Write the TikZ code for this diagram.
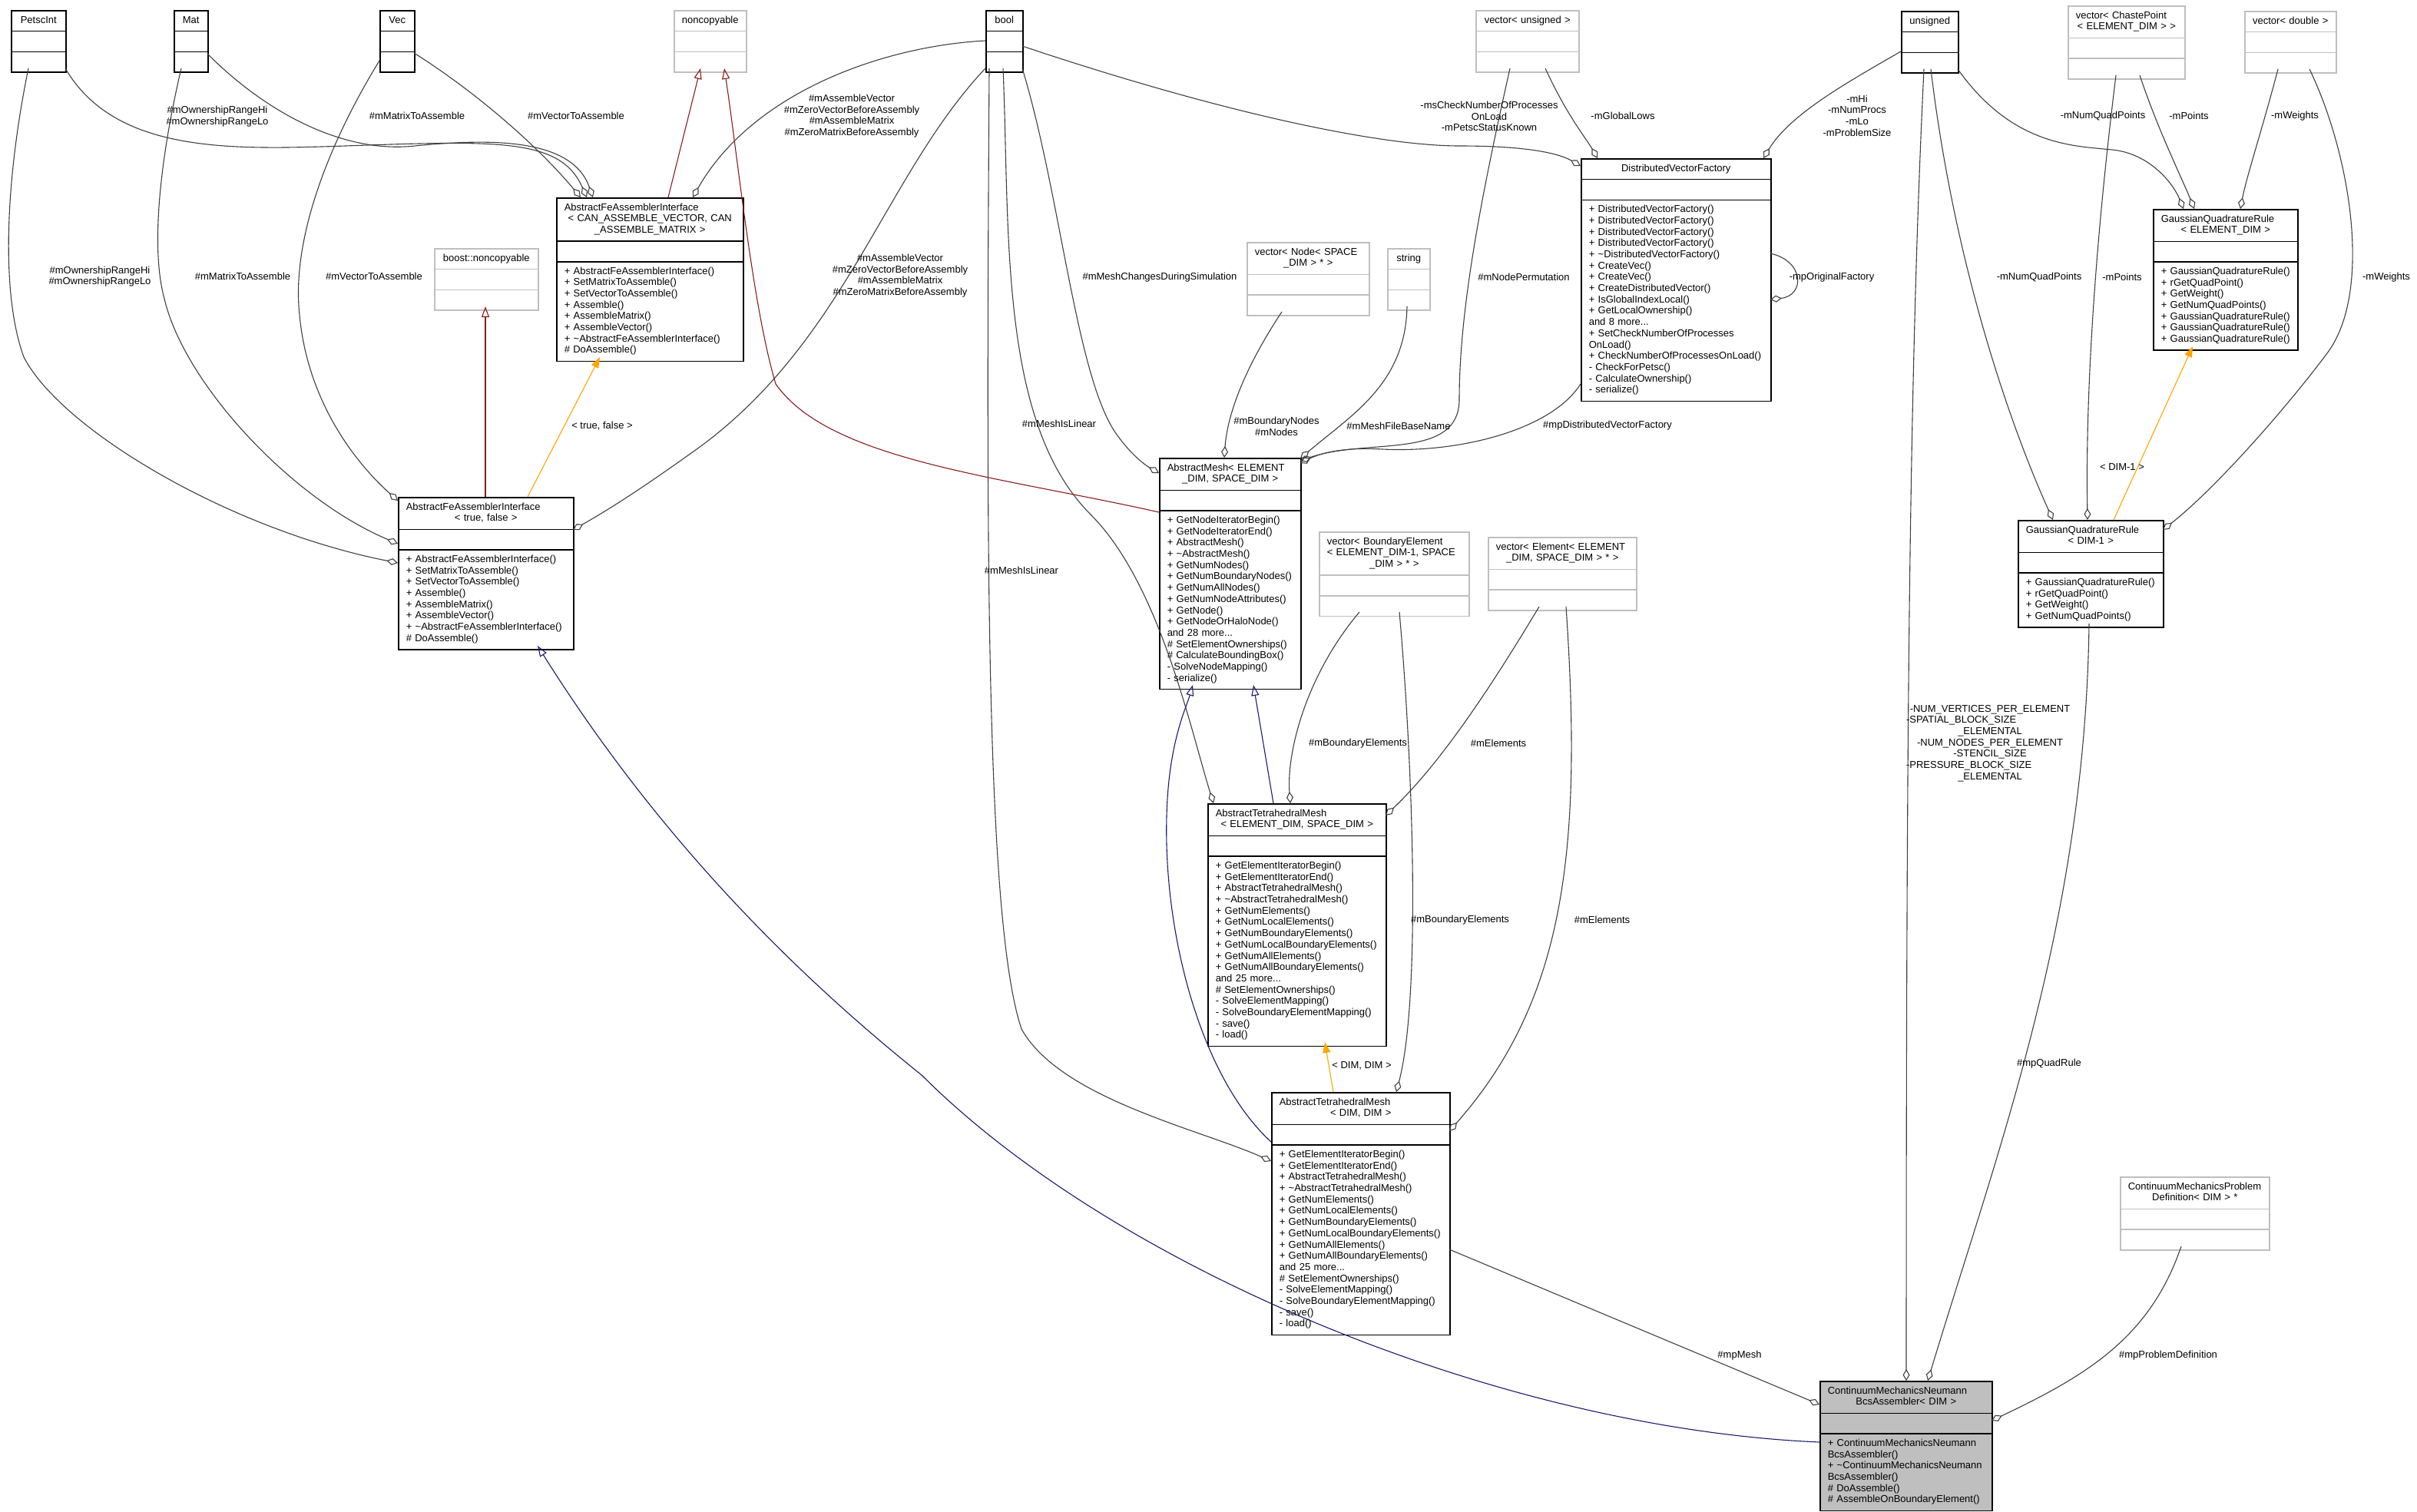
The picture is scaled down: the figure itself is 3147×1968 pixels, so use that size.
\documentclass[tikz,border=0pt]{standalone}
\usepackage{fontspec}
\setmainfont{Liberation Sans}
\usetikzlibrary{shapes.multipart,arrows.meta,calc}
\definecolor{edgegray}{HTML}{404040}
\definecolor{boxgray}{HTML}{BFBFBF}
\definecolor{inhblue}{HTML}{191970}
\definecolor{inhred}{HTML}{8B1A1A}
\definecolor{tmplorange}{HTML}{FFA500}
\definecolor{cmfill}{HTML}{BFBFBF}
\newcommand\fs{\fontsize{13}{14.7}\selectfont\hyphenpenalty=10000\parindent=0pt}
\newcommand\cl[1]{\makebox[\hsize][c]{\strut#1}}
\newcommand\onettl[1]{\cl{#1}}
\newcommand\twottl[2]{\strut#1\\\cl{#2}}
\newcommand\tdl{\textasciitilde}
\newcommand\emptypart{\strut}
\begin{document}
\begin{tikzpicture}[x=1pt,y=-1pt,
  cls/.style={rectangle split, rectangle split parts=3, draw=black, line width=1.5pt,
    inner xsep=10pt, inner ysep=5.3pt, align=left, anchor=north west, font=\fs, fill=white},
  gcls/.style={cls, draw=boxgray},
  lab/.style={font=\fs, align=center, inner sep=0pt},
  agg/.style={draw=edgegray, line width=1.1pt, -{Diamond[open, length=15pt, width=9pt]}},
  inh/.style={draw=inhblue, line width=1.1pt, -{Triangle[open, length=14pt, width=10pt]}},
  inhr/.style={draw=inhred, line width=1.1pt, -{Triangle[open, length=14pt, width=10pt]}},
  tmpl/.style={draw=tmplorange, line width=1.1pt, -{Triangle[length=14pt, width=10pt, fill=tmplorange]}}]
\fill[white] (0,0) rectangle (3147,1968);
\useasboundingbox (0,0) rectangle (3147,1968);

% ---------- classes ----------
\node[cls, text width=51pt] (petsc) at (14,13) {\onettl{PetscInt}\nodepart{two}\emptypart\nodepart{three}\emptypart};
\node[cls, text width=24pt] (mat) at (226,13) {\onettl{Mat}\nodepart{two}\emptypart\nodepart{three}\emptypart};
\node[cls, text width=25pt] (vec) at (494,13) {\onettl{Vec}\nodepart{two}\emptypart\nodepart{three}\emptypart};
\node[gcls, text width=74pt] (ncop) at (877,13) {\onettl{noncopyable}\nodepart{two}\emptypart\nodepart{three}\emptypart};
\node[cls, text width=28pt] (bool) at (1283,13) {\onettl{bool}\nodepart{two}\emptypart\nodepart{three}\emptypart};
\node[gcls, text width=114pt] (vuns) at (1921,13) {\onettl{vector< unsigned >}\nodepart{two}\emptypart\nodepart{three}\emptypart};
\node[cls, text width=54pt] (uns) at (2475,14) {\onettl{unsigned}\nodepart{two}\emptypart\nodepart{three}\emptypart};
\node[gcls, text width=132pt] (vcp) at (2692,7) {\twottl{vector< ChastePoint}{< ELEMENT\_DIM > >}\nodepart{two}\emptypart\nodepart{three}\emptypart};
\node[gcls, text width=99pt] (vdbl) at (2922,14) {\onettl{vector< double >}\nodepart{two}\emptypart\nodepart{three}\emptypart};

\node[cls, text width=223pt] (afaic) at (724,257) {\strut AbstractFeAssemblerInterface\\\cl{< CAN\_ASSEMBLE\_VECTOR, CAN}\\\cl{\_ASSEMBLE\_MATRIX >}\nodepart{two}\emptypart\nodepart{three}\strut+~AbstractFeAssemblerInterface()\\+~SetMatrixToAssemble()\\+~SetVectorToAssemble()\\+~Assemble()\\+~AssembleMatrix()\\+~AssembleVector()\\+~\tdl AbstractFeAssemblerInterface()\\\#~DoAssemble()\strut};
\node[gcls, text width=115pt] (bnc) at (565,323) {\onettl{boost::noncopyable}\nodepart{two}\emptypart\nodepart{three}\emptypart};
\node[cls, text width=208pt] (afaitf) at (518,647) {\twottl{AbstractFeAssemblerInterface}{< true, false >}\nodepart{two}\emptypart\nodepart{three}\strut+~AbstractFeAssemblerInterface()\\+~SetMatrixToAssemble()\\+~SetVectorToAssemble()\\+~Assemble()\\+~AssembleMatrix()\\+~AssembleVector()\\+~\tdl AbstractFeAssemblerInterface()\\\#~DoAssemble()\strut};

\node[cls, text width=227pt] (dvf) at (2058,206) {\onettl{DistributedVectorFactory}\nodepart{two}\emptypart\nodepart{three}\strut+~DistributedVectorFactory()\\+~DistributedVectorFactory()\\+~DistributedVectorFactory()\\+~DistributedVectorFactory()\\+~\tdl DistributedVectorFactory()\\+~CreateVec()\\+~CreateVec()\\+~CreateDistributedVector()\\+~IsGlobalIndexLocal()\\+~GetLocalOwnership()\\and 8 more...\\+~SetCheckNumberOfProcesses\\OnLoad()\\+~CheckNumberOfProcessesOnLoad()\\-~CheckForPetsc()\\-~CalculateOwnership()\\-~serialize()\strut};
\node[gcls, text width=139pt] (vnode) at (1623,315) {\twottl{vector< Node< SPACE}{\_DIM > * >}\nodepart{two}\emptypart\nodepart{three}\emptypart};
\node[gcls, text width=35pt] (str) at (1806,323) {\onettl{string}\nodepart{two}\emptypart\nodepart{three}\emptypart};
\node[cls, text width=168pt] (gqre) at (2803,272) {\twottl{GaussianQuadratureRule}{< ELEMENT\_DIM >}\nodepart{two}\emptypart\nodepart{three}\strut+~GaussianQuadratureRule()\\+~rGetQuadPoint()\\+~GetWeight()\\+~GetNumQuadPoints()\\+~GaussianQuadratureRule()\\+~GaussianQuadratureRule()\\+~GaussianQuadratureRule()\strut};

\node[cls, text width=164pt] (amesh) at (1509,596) {\twottl{AbstractMesh< ELEMENT}{\_DIM, SPACE\_DIM >}\nodepart{two}\emptypart\nodepart{three}\strut+~GetNodeIteratorBegin()\\+~GetNodeIteratorEnd()\\+~AbstractMesh()\\+~\tdl AbstractMesh()\\+~GetNumNodes()\\+~GetNumBoundaryNodes()\\+~GetNumAllNodes()\\+~GetNumNodeAttributes()\\+~GetNode()\\+~GetNodeOrHaloNode()\\and 28 more...\\\#~SetElementOwnerships()\\\#~CalculateBoundingBox()\\-~SolveNodeMapping()\\-~serialize()\strut};
\node[gcls, text width=175pt] (vbe) at (1717,692) {\strut vector< BoundaryElement\\\strut< ELEMENT\_DIM-1, SPACE\\\cl{\_DIM > * >}\nodepart{two}\emptypart\nodepart{three}\emptypart};
\node[gcls, text width=173pt] (vel) at (1937,699) {\twottl{vector< Element< ELEMENT}{\_DIM, SPACE\_DIM > * >}\nodepart{two}\emptypart\nodepart{three}\emptypart};
\node[cls, text width=169pt] (gqrd) at (2627,677) {\twottl{GaussianQuadratureRule}{< DIM-1 >}\nodepart{two}\emptypart\nodepart{three}\strut+~GaussianQuadratureRule()\\+~rGetQuadPoint()\\+~GetWeight()\\+~GetNumQuadPoints()\strut};

\node[cls, text width=212pt] (atmes) at (1572,1046) {\twottl{AbstractTetrahedralMesh}{< ELEMENT\_DIM, SPACE\_DIM >}\nodepart{two}\emptypart\nodepart{three}\strut+~GetElementIteratorBegin()\\+~GetElementIteratorEnd()\\+~AbstractTetrahedralMesh()\\+~\tdl AbstractTetrahedralMesh()\\+~GetNumElements()\\+~GetNumLocalElements()\\+~GetNumBoundaryElements()\\+~GetNumLocalBoundaryElements()\\+~GetNumAllElements()\\+~GetNumAllBoundaryElements()\\and 25 more...\\\#~SetElementOwnerships()\\-~SolveElementMapping()\\-~SolveBoundaryElementMapping()\\-~save()\\-~load()\strut};
\node[cls, text width=212pt] (atmdd) at (1655,1422) {\twottl{AbstractTetrahedralMesh}{< DIM, DIM >}\nodepart{two}\emptypart\nodepart{three}\strut+~GetElementIteratorBegin()\\+~GetElementIteratorEnd()\\+~AbstractTetrahedralMesh()\\+~\tdl AbstractTetrahedralMesh()\\+~GetNumElements()\\+~GetNumLocalElements()\\+~GetNumBoundaryElements()\\+~GetNumLocalBoundaryElements()\\+~GetNumAllElements()\\+~GetNumAllBoundaryElements()\\and 25 more...\\\#~SetElementOwnerships()\\-~SolveElementMapping()\\-~SolveBoundaryElementMapping()\\-~save()\\-~load()\strut};
\node[gcls, text width=174pt] (cmpd) at (2760,1532) {\twottl{ContinuumMechanicsProblem}{Definition< DIM > *}\nodepart{two}\emptypart\nodepart{three}\emptypart};
\node[cls, fill=cmfill, text width=204pt] (cmnba) at (2369,1798) {\twottl{ContinuumMechanicsNeumann}{BcsAssembler< DIM >}\nodepart{two}\emptypart\nodepart{three}\strut+~ContinuumMechanicsNeumann\\BcsAssembler()\\+~\tdl ContinuumMechanicsNeumann\\BcsAssembler()\\\#~DoAssemble()\\\#~AssembleOnBoundaryElement()\strut};

% ---------- aggregation edges ----------
\draw[agg] ([shift={(23,76)}]petsc.north west) .. controls (8,230) and (0,380) .. (31,465) .. controls (80,560) and (300,690) .. ([shift={(0,86)}]afaitf.north west);
\draw[agg] ([shift={(10,76)}]mat.north west) .. controls (210,200) and (195,320) .. (214,389) .. controls (240,500) and (380,650) .. ([shift={(0,61)}]afaitf.north west);
\draw[agg] ([shift={(0,66)}]vec.north west) .. controls (420,200) and (380,320) .. (390,410) .. controls (400,520) and (460,600) .. ([shift={(0,5)}]afaitf.north west);
\draw[agg] ([shift={(71,76)}]petsc.north west) .. controls (150,200) and (300,195) .. (450,190) .. controls (650,183) and (730,180) .. ([shift={(40,0)}]afaic.north west);
\draw[agg] ([shift={(44,57)}]mat.north west) .. controls (350,150) and (450,200) .. (540,190) .. controls (640,180) and (745,180) .. ([shift={(48,0)}]afaic.north west);
\draw[agg] ([shift={(45,56)}]vec.north west) .. controls (620,120) and (700,190) .. ([shift={(32,0)}]afaic.north west);
\draw[agg] ([shift={(0,40)}]bool.north west) .. controls (1150,60) and (980,120) .. ([shift={(178,0)}]afaic.north west);
\draw[agg] ([shift={(0,76)}]bool.north west) .. controls (1150,230) and (1100,450) .. (900,590) .. controls (830,640) and (790,665) .. ([shift={(228,43)}]afaitf.north west);
\draw[agg] ([shift={(48,47)}]bool.north west) .. controls (1600,150) and (1800,190) .. (1900,190) .. controls (1990,190) and (2030,200) .. ([shift={(0,10)}]dvf.north west);
\draw[agg] ([shift={(91,76)}]vuns.north west) .. controls (2040,150) and (2065,180) .. ([shift={(22,0)}]dvf.north west);
\draw[agg] ([shift={(0,53)}]uns.north west) .. controls (2400,110) and (2330,150) .. ([shift={(238,0)}]dvf.north west);
\draw[agg] ([shift={(247,124)}]dvf.north west) .. controls (2350,340) and (2350,385) .. ([shift={(247,184)}]dvf.north west);
\draw[agg] ([shift={(48,76)}]bool.north west) .. controls (1380,250) and (1400,480) .. (1450,560) .. controls (1470,590) and (1490,605) .. ([shift={(0,20)}]amesh.north west);
\draw[agg] ([shift={(23,76)}]bool.north west) .. controls (1315,300) and (1300,550) .. (1420,670) .. controls (1510,760) and (1550,950) .. ([shift={(8,0)}]atmes.north west);
\draw[agg] ([shift={(5,76)}]bool.north west) .. controls (1284,700) and (1283,1200) .. (1330,1340) .. controls (1380,1430) and (1560,1470) .. ([shift={(0,90)}]atmdd.north west);
\draw[agg] ([shift={(46,91)}]vnode.north west) .. controls (1620,480) and (1598,540) .. ([shift={(85,0)}]amesh.north west);
\draw[agg] ([shift={(26,76)}]str.north west) .. controls (1830,500) and (1760,540) .. ([shift={(184,1)}]amesh.north west);
\draw[agg] ([shift={(45,76)}]vuns.north west) .. controls (1930,250) and (1900,400) .. (1900,520) .. controls (1900,600) and (1780,570) .. ([shift={(184,4)}]amesh.north west);
\draw[agg] ([shift={(0,294)}]dvf.north west) .. controls (2020,560) and (1900,590) .. (1800,585) .. controls (1750,582) and (1720,590) .. ([shift={(184,7)}]amesh.north west);
\draw[agg] ([shift={(53,105)}]vbe.north west) .. controls (1700,880) and (1675,980) .. ([shift={(108,0)}]atmes.north west);
\draw[agg] ([shift={(67,91)}]vel.north west) .. controls (1950,880) and (1880,990) .. ([shift={(232,16)}]atmes.north west);
\draw[agg] ([shift={(105,105)}]vbe.north west) .. controls (1840,1000) and (1850,1300) .. ([shift={(163,0)}]atmdd.north west);
\draw[agg] ([shift={(102,91)}]vel.north west) .. controls (2060,1100) and (2040,1300) .. ([shift={(232,51)}]atmdd.north west);
\draw[agg] ([shift={(232,205)}]atmdd.north west) -- ([shift={(0,31)}]cmnba.north west);
\draw[agg] ([shift={(30,76)}]uns.north west) .. controls (2485,500) and (2482,1000) .. ([shift={(113,0)}]cmnba.north west);
\draw[agg] ([shift={(39,76)}]uns.north west) .. controls (2545,350) and (2620,560) .. ([shift={(46,0)}]gqrd.north west);
\draw[agg] ([shift={(74,76)}]uns.north west) .. controls (2620,190) and (2700,190) .. (2750,195) .. controls (2800,200) and (2830,240) .. ([shift={(40,0)}]gqre.north west);
\draw[agg] ([shift={(63,91)}]vcp.north west) .. controls (2730,300) and (2715,500) .. ([shift={(91,0)}]gqrd.north west);
\draw[agg] ([shift={(94,91)}]vcp.north west) .. controls (2810,170) and (2840,230) .. ([shift={(54,0)}]gqre.north west);
\draw[agg] ([shift={(44,76)}]vdbl.north west) .. controls (2945,170) and (2925,230) .. ([shift={(114,0)}]gqre.north west);
\draw[agg] ([shift={(85,76)}]vdbl.north west) .. controls (3060,200) and (3090,380) .. (3030,460) .. controls (2970,540) and (2880,640) .. ([shift={(189,13)}]gqrd.north west);
\draw[agg] ([shift={(93,135)}]gqrd.north west) .. controls (2715,1200) and (2600,1500) .. ([shift={(141,0)}]cmnba.north west);
\draw[agg] ([shift={(80,91)}]cmpd.north west) .. controls (2800,1740) and (2720,1790) .. ([shift={(224,52)}]cmnba.north west);

% ---------- inheritance ----------
\draw[inh] ([shift={(0,80)}]cmnba.north west) .. controls (1950,1860) and (1450,1650) .. (1200,1400) .. controls (950,1200) and (800,1000) .. ([shift={(182,194)}]afaitf.north west);
\draw[inh] ([shift={(86,0)}]atmes.north west) -- ([shift={(123,296)}]amesh.north west);
\draw[inh] ([shift={(0,65)}]atmdd.north west) .. controls (1560,1400) and (1510,1200) .. (1520,1040) .. controls (1525,960) and (1545,920) .. ([shift={(44,296)}]amesh.north west);
\draw[inhr] ([shift={(146,0)}]afaic.north west) -- ([shift={(35,76)}]ncop.north west);
\draw[inhr] ([shift={(114,0)}]afaitf.north west) -- ([shift={(67,76)}]bnc.north west);
\draw[inhr] ([shift={(0,71)}]amesh.north west) .. controls (1300,620) and (1080,600) .. (1010,500) .. controls (980,400) and (960,200) .. ([shift={(66,76)}]ncop.north west);
\draw[tmpl] ([shift={(169,0)}]afaitf.north west) -- ([shift={(57,208)}]afaic.north west);
\draw[tmpl] ([shift={(81,0)}]atmdd.north west) -- ([shift={(153,311)}]atmes.north west);
\draw[tmpl] ([shift={(125,0)}]gqrd.north west) -- ([shift={(52,179)}]gqre.north west);

% ---------- labels ----------
\node[lab] (lrA) at (283,151.5) {\#mOwnershipRangeHi\\\#mOwnershipRangeLo};
\node[lab] (lrB) at (130,360) {\#mOwnershipRangeHi\\\#mOwnershipRangeLo};
\node[lab] (lmA) at (543,151) {\#mMatrixToAssemble};
\node[lab] (lmB) at (316,360) {\#mMatrixToAssemble};
\node[lab] (lvA) at (750,151) {\#mVectorToAssemble};
\node[lab] (lvB) at (487,360) {\#mVectorToAssemble};
\node[lab] (lbA) at (1109,151) {\#mAssembleVector\\\#mZeroVectorBeforeAssembly\\\#mAssembleMatrix\\\#mZeroMatrixBeforeAssembly};
\node[lab] (lbB) at (1172,359) {\#mAssembleVector\\\#mZeroVectorBeforeAssembly\\\#mAssembleMatrix\\\#mZeroMatrixBeforeAssembly};
\node[lab] (ldv) at (1939,151.5) {-msCheckNumberOfProcesses\\OnLoad\\-mPetscStatusKnown};
\node[lab] (lgl) at (2113,151) {-mGlobalLows};
\node[lab] (lhi) at (2418,150.5) {-mHi\\-mNumProcs\\-mLo\\-mProblemSize};
\node[lab] (lof) at (2385,361) {-mpOriginalFactory};
\node[lab] (lmc) at (1510,361) {\#mMeshChangesDuringSimulation};
\node[lab] (lnp) at (1984,361) {\#mNodePermutation};
\node[lab] (lbn) at (1662,555) {\#mBoundaryNodes\\\#mNodes};
\node[lab] (lfb) at (1821,555) {\#mMeshFileBaseName};
\node[lab] (ldf) at (2093,554) {\#mpDistributedVectorFactory};
\node[lab] (llA) at (1379,552) {\#mMeshIsLinear};
\node[lab] (llB) at (1330,743) {\#mMeshIsLinear};
\node[lab] (lbeA) at (1768,968) {\#mBoundaryElements};
\node[lab] (lbeB) at (1901,1198) {\#mBoundaryElements};
\node[lab] (lelA) at (1951,968) {\#mElements};
\node[lab] (lelB) at (2086,1198) {\#mElements};
\node[lab] (ltd) at (1773,1388) {< DIM, DIM >};
\node[lab] (ltf) at (784,555) {< true, false >};
\node[lab] (ltq) at (2763,608) {< DIM-1 >};
\node[lab] (lpm) at (2265,1765) {\#mpMesh};
\node[lab] (lqr) at (2668,1385) {\#mpQuadRule};
\node[lab] (lpd) at (2823,1765) {\#mpProblemDefinition};
\node[lab] (lnqA) at (2738,151) {-mNumQuadPoints};
\node[lab] (lnqB) at (2655,361) {-mNumQuadPoints};
\node[lab] (lptA) at (2850,151) {-mPoints};
\node[lab] (lptB) at (2763,361) {-mPoints};
\node[lab] (lwA) at (2988,151) {-mWeights};
\node[lab] (lwB) at (3107,361) {-mWeights};
\node[lab, text width=218pt] (lnum) at (2591,968) {-NUM\_VERTICES\_PER\_ELEMENT\\\makebox[218pt][l]{-SPATIAL\_BLOCK\_SIZE}\\\_ELEMENTAL\\-NUM\_NODES\_PER\_ELEMENT\\-STENCIL\_SIZE\\\makebox[218pt][l]{-PRESSURE\_BLOCK\_SIZE}\\\_ELEMENTAL};
\end{tikzpicture}
\end{document}
